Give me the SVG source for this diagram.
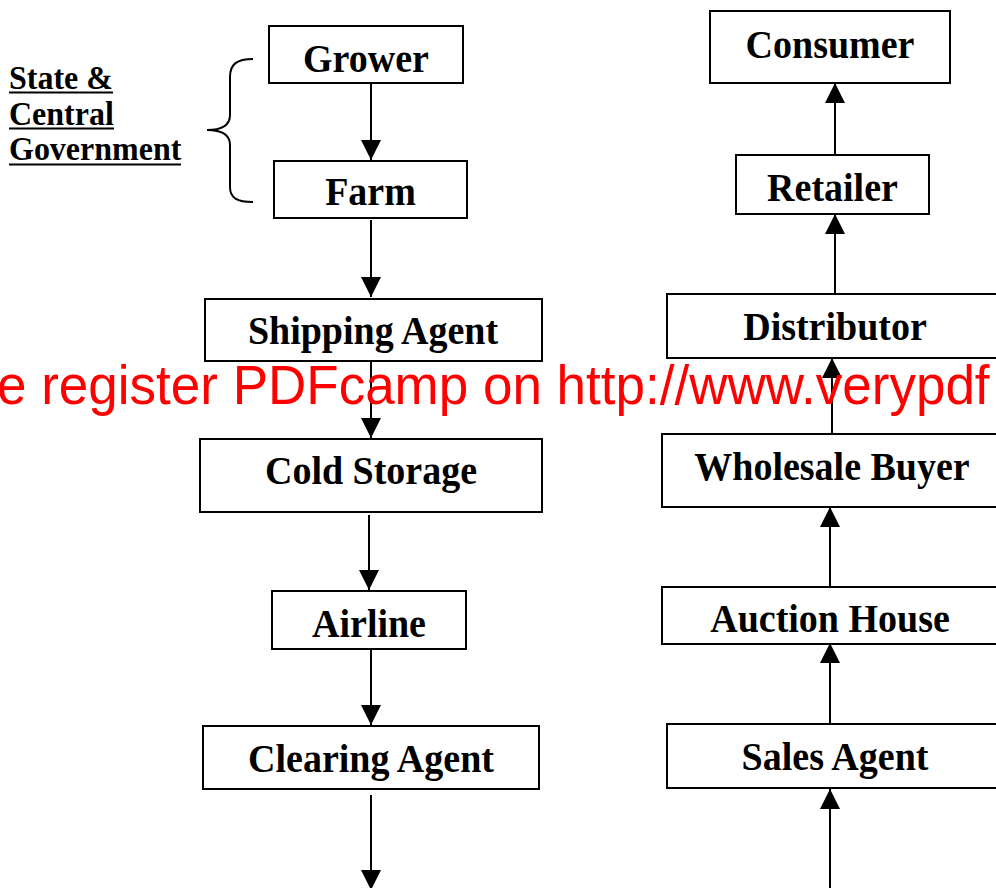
<svg xmlns="http://www.w3.org/2000/svg" width="996" height="888" viewBox="0 0 996 888">
  <style>
    .box { fill: #ffffff; stroke: #000000; stroke-width: 2; }
    .lbl { font-family: "Liberation Serif", "Times New Roman", serif; font-weight: bold; font-size: 38px; fill: #000000; text-anchor: middle; }
    .side { font-family: "Liberation Serif", "Times New Roman", serif; font-weight: bold; font-size: 32px; fill: #000000; }
    .ul { stroke: #000000; stroke-width: 2; }
    .conn { stroke: #000000; stroke-width: 2; fill: none; }
    .mark { font-family: "Liberation Sans", Arial, sans-serif; font-size: 53px; fill: #ff0000; }
  </style>
  <defs>
    <marker id="head" viewBox="0 0 20 20" refX="20" refY="10" markerWidth="20" markerHeight="20" markerUnits="userSpaceOnUse" orient="auto">
      <path d="M0,0 L20,10 L0,20 Z" fill="#000000"/>
    </marker>
  </defs>
  <rect width="996" height="888" fill="#ffffff"/>

  <!-- government bracket and label -->
  <g id="government">
    <text class="side" transform="translate(9,89) scale(1,1.07)">State &amp;</text>
    <line class="ul" x1="9" y1="92.5" x2="113" y2="92.5"/>
    <text class="side" transform="translate(9,125) scale(1,1.07)">Central</text>
    <line class="ul" x1="9" y1="128.5" x2="114" y2="128.5"/>
    <text class="side" transform="translate(9,160) scale(1,1.07)">Government</text>
    <line class="ul" x1="9" y1="164.5" x2="181" y2="164.5"/>
    <path class="conn" d="M253,59 C237,59 230,64 230,77 L230,115 C230,125 222,130 207,130 C222,130 230,135 230,145 L230,187 C230,198 237,202 253,202"/>
  </g>

  <!-- left column: export chain -->
  <g id="grower">
    <rect class="box" x="269" y="26" width="194" height="57"/>
    <text class="lbl" transform="translate(366,72) scale(1,1.07)">Grower</text>
  </g>
  <g id="farm">
    <rect class="box" x="274" y="161" width="193" height="57"/>
    <text class="lbl" transform="translate(370.5,205) scale(1,1.07)">Farm</text>
  </g>
  <g id="shipping-agent">
    <rect class="box" x="205" y="299" width="337" height="62"/>
    <text class="lbl" transform="translate(373,344) scale(1,1.07)">Shipping Agent</text>
  </g>
  <g id="cold-storage">
    <rect class="box" x="200" y="439" width="342" height="73"/>
    <text class="lbl" transform="translate(371,484) scale(1,1.07)">Cold Storage</text>
  </g>
  <g id="airline">
    <rect class="box" x="272" y="591" width="194" height="58"/>
    <text class="lbl" transform="translate(369,637) scale(1,1.07)">Airline</text>
  </g>
  <g id="clearing-agent">
    <rect class="box" x="203" y="726" width="336" height="63"/>
    <text class="lbl" transform="translate(371,772) scale(1,1.07)">Clearing Agent</text>
  </g>

  <!-- right column: market chain -->
  <g id="consumer">
    <rect class="box" x="710" y="11" width="240" height="72"/>
    <text class="lbl" transform="translate(830,58) scale(1,1.07)">Consumer</text>
  </g>
  <g id="retailer">
    <rect class="box" x="736" y="155" width="193" height="59"/>
    <text class="lbl" transform="translate(832.5,201) scale(1,1.07)">Retailer</text>
  </g>
  <g id="distributor">
    <rect class="box" x="667" y="294" width="336" height="64"/>
    <text class="lbl" transform="translate(835,340) scale(1,1.07)">Distributor</text>
  </g>
  <g id="wholesale-buyer">
    <rect class="box" x="662" y="434" width="340" height="73"/>
    <text class="lbl" transform="translate(832,480) scale(1,1.07)">Wholesale Buyer</text>
  </g>
  <g id="auction-house">
    <rect class="box" x="662" y="587" width="338" height="57"/>
    <text class="lbl" transform="translate(830,632) scale(1,1.07)">Auction House</text>
  </g>
  <g id="sales-agent">
    <rect class="box" x="667" y="724" width="336" height="64"/>
    <text class="lbl" transform="translate(835,770) scale(1,1.07)">Sales Agent</text>
  </g>

  <!-- connectors -->
  <g id="connectors">
    <line class="conn" x1="371" y1="84" x2="371" y2="160" marker-end="url(#head)"/>
    <line class="conn" x1="371" y1="220" x2="371" y2="297" marker-end="url(#head)"/>
    <line class="conn" x1="371" y1="362" x2="371" y2="438" marker-end="url(#head)"/>
    <line class="conn" x1="369" y1="515" x2="369" y2="590" marker-end="url(#head)"/>
    <line class="conn" x1="371" y1="650" x2="371" y2="725" marker-end="url(#head)"/>
    <line class="conn" x1="371" y1="795" x2="371" y2="890" marker-end="url(#head)"/>

    <line class="conn" x1="835" y1="155" x2="835" y2="83" marker-end="url(#head)"/>
    <line class="conn" x1="835" y1="294" x2="835" y2="214" marker-end="url(#head)"/>
    <line class="conn" x1="832" y1="434" x2="832" y2="358" marker-end="url(#head)"/>
    <line class="conn" x1="830" y1="587" x2="830" y2="507" marker-end="url(#head)"/>
    <line class="conn" x1="830" y1="724" x2="830" y2="643" marker-end="url(#head)"/>
    <line class="conn" x1="830" y1="890" x2="830" y2="789" marker-end="url(#head)"/>
  </g>

  <!-- overlay banner, running off both page edges -->
  <text class="mark" transform="translate(-3,404) scale(1,1.06)">e register PDFcamp on http://www.verypdf</text>
</svg>
